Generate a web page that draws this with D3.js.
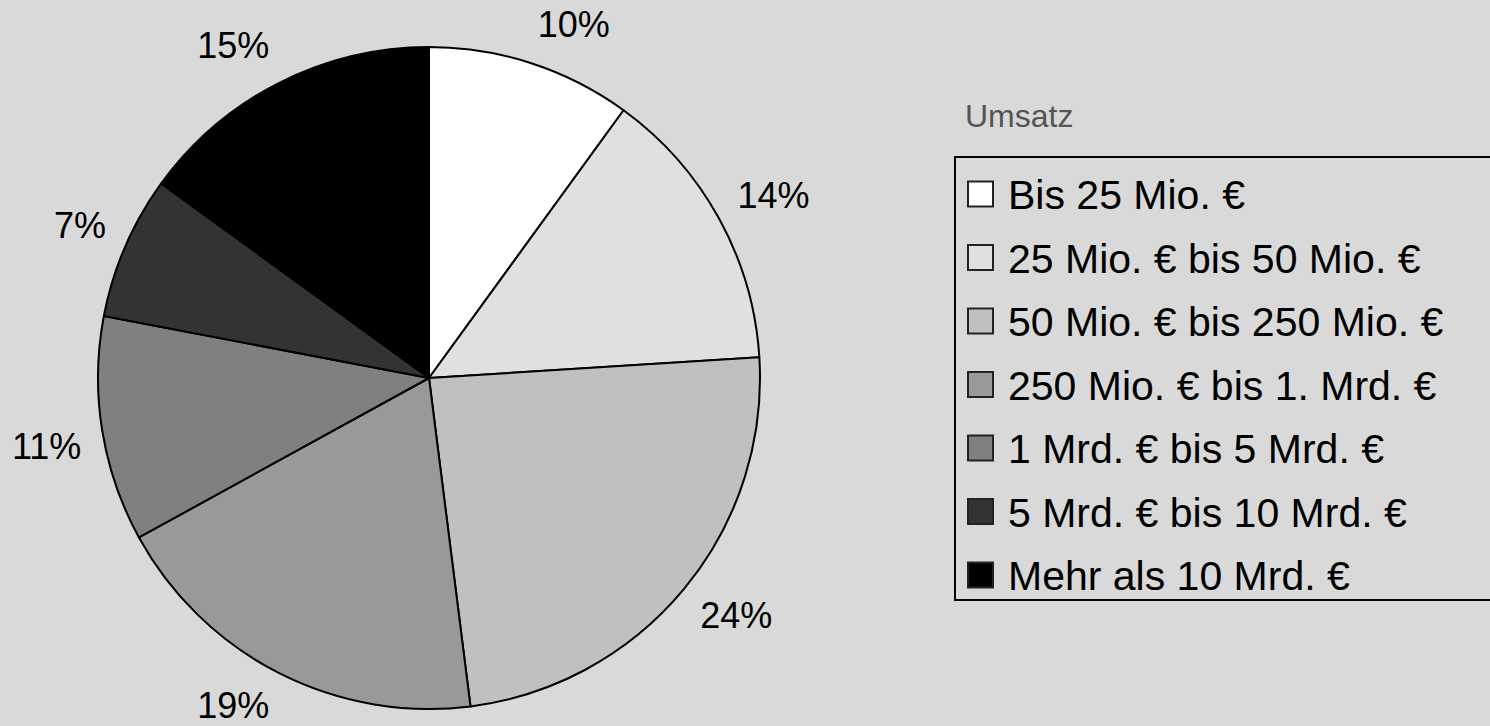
<!DOCTYPE html>
<html>
<head>
<meta charset="utf-8">
<script src="https://cdn.jsdelivr.net/npm/d3@7"></script>
<style>
  body { margin: 0; background: #d9d9d9; }
  svg { display: block; font-family: "Liberation Sans", Arial, sans-serif; }
</style>
</head>
<body>
<div id="chart-container"></div>
<script>
// data
const categories = [
  "Bis 25 Mio. €",
  "25 Mio. € bis 50 Mio. €",
  "50 Mio. € bis 250 Mio. €",
  "250 Mio. € bis 1. Mrd. €",
  "1 Mrd. € bis 5 Mrd. €",
  "5 Mrd. € bis 10 Mrd. €",
  "Mehr als 10 Mrd. €"
];
const values = [10, 14, 24, 19, 11, 7, 15];
const colors = ["#ffffff", "#e0e0e0", "#c0c0c0", "#999999", "#808080", "#333333", "#000000"];
const legendTitle = "Umsatz";

const width = 1490;
const height = 726;

const svg = d3
  .select("#chart-container")
  .append("svg")
  .attr("width", width)
  .attr("height", height);

svg.append("rect").attr("width", width).attr("height", height).attr("fill", "#d9d9d9");

// pie
const cx = 429, cy = 378, radius = 331;
const data = categories.map((c, i) => ({ name: c, value: values[i], color: colors[i] }));

const pie = d3.pie().value((d) => d.value).sort(null);
const arcs = pie(data);
const arc = d3.arc().innerRadius(0).outerRadius(radius);

const g = svg.append("g").attr("transform", `translate(${cx}, ${cy})`);

g.selectAll("path.slice")
  .data(arcs)
  .join("path")
  .attr("class", "slice")
  .attr("d", arc)
  .attr("fill", (d) => d.data.color)
  .attr("stroke", "#000")
  .attr("stroke-width", 2)
  .attr("stroke-linejoin", "round");

// percent labels just outside the rim
const labelR = 352;
g.selectAll("text.pct")
  .data(arcs)
  .join("text")
  .attr("class", "pct")
  .each(function (d) {
    const a = (d.startAngle + d.endAngle) / 2;
    const x = labelR * Math.sin(a);
    const y = -labelR * Math.cos(a);
    // labels near the top get pulled up a little
    const lift = Math.cos(a) > 0.8 ? -6 : 0;
    d3.select(this)
      .attr("x", x)
      .attr("y", Math.cos(a) >= 0 ? y + lift : y + 26)
      .attr("text-anchor", Math.sin(a) >= 0 ? "start" : "end");
  })
  .style("font-size", "36px")
  .attr("fill", "#000")
  .text((d) => `${d.data.value}%`);

// legend
svg
  .append("text")
  .attr("x", 965)
  .attr("y", 127)
  .style("font-size", "32px")
  .attr("fill", "#555")
  .text(legendTitle);

svg
  .append("rect")
  .attr("x", 955)
  .attr("y", 157)
  .attr("width", 600)
  .attr("height", 443)
  .attr("fill", "none")
  .attr("stroke", "#000")
  .attr("stroke-width", 2);

const rowY = d3.scalePoint().domain(categories).range([194, 575]);

const items = svg
  .selectAll("g.legend-item")
  .data(data)
  .join("g")
  .attr("class", "legend-item")
  .attr("transform", (d) => `translate(0, ${rowY(d.name)})`);

items
  .append("rect")
  .attr("x", 968)
  .attr("y", -12.5)
  .attr("width", 25)
  .attr("height", 25)
  .attr("fill", (d) => d.color)
  .attr("stroke", "#222")
  .attr("stroke-width", 2);

items
  .append("text")
  .attr("x", 1008)
  .attr("y", 15)
  .style("font-size", "41px")
  .attr("fill", "#000")
  .text((d) => d.name);
</script>
</body>
</html>
